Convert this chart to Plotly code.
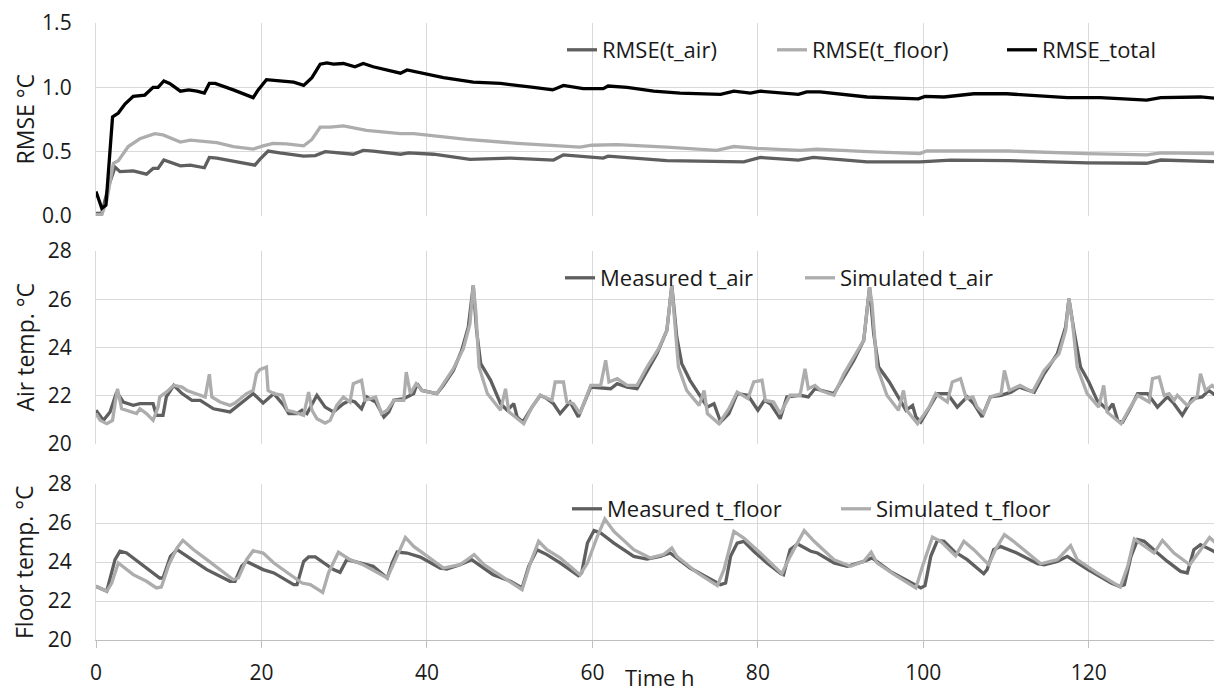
import plotly.graph_objects as go

# ---------------- data ----------------
# Panel 1: RMSE (°C)
t_rmse_air = [0, 0.7, 1.5, 2.3, 2.9, 4.5, 6.1, 6.9, 7.5, 8.2, 10.2, 11.4, 13.1, 13.7, 14.6, 16.6, 19.2, 19.8,
              20.8, 22.2, 23.5, 25.1, 26.5, 27.7, 28.7, 31.1, 32.3, 33.5, 36.8, 37.8, 40.8, 45.2, 50.1, 55.3,
              56.5, 60.1, 61.3, 61.9, 69.0, 78.3, 80.3, 84.9, 86.7, 93.2, 99.6, 103.3, 110.3, 119.8, 127.0,
              128.7, 136.1]
rmse_air = [0.02, 0.02, 0.23, 0.38, 0.345, 0.35, 0.325, 0.37, 0.37, 0.435, 0.39, 0.395, 0.375, 0.455, 0.45,
            0.425, 0.395, 0.44, 0.505, 0.49, 0.48, 0.465, 0.47, 0.50, 0.495, 0.48, 0.51, 0.505, 0.48, 0.49,
            0.48, 0.44, 0.45, 0.435, 0.475, 0.455, 0.45, 0.465, 0.43, 0.42, 0.455, 0.435, 0.455, 0.42, 0.42,
            0.435, 0.43, 0.413, 0.41, 0.435, 0.42]

t_rmse_floor = [0, 0.7, 1.3, 2.1, 2.7, 3.9, 5.3, 7.1, 8.1, 10.2, 11.4, 13.6, 14.6, 16.6, 19.0, 20.2, 21.4,
                23.0, 25.1, 26.1, 27.1, 28.3, 29.9, 32.7, 36.8, 38.4, 40.0, 44.8, 50.9, 55.3, 58.5, 59.9,
                63.0, 69.0, 75.0, 77.1, 79.9, 85.1, 87.1, 93.2, 99.6, 100.4, 107.3, 110.3, 119.8, 127.0,
                128.7, 136.1]
rmse_floor = [0.01, 0.01, 0.12, 0.41, 0.43, 0.54, 0.60, 0.64, 0.63, 0.575, 0.59, 0.575, 0.57, 0.54, 0.52,
              0.545, 0.565, 0.56, 0.545, 0.595, 0.69, 0.69, 0.70, 0.665, 0.64, 0.64, 0.63, 0.595, 0.565,
              0.545, 0.535, 0.55, 0.555, 0.535, 0.51, 0.54, 0.525, 0.51, 0.52, 0.50, 0.485, 0.505, 0.505,
              0.505, 0.485, 0.475, 0.49, 0.485]

t_rmse_total = [0, 0.7, 1.2, 2.0, 2.7, 3.5, 4.5, 5.9, 6.9, 7.5, 8.2, 8.9, 10.2, 11.2, 12.2, 13.1, 13.7, 14.4,
                16.6, 19.0, 19.6, 20.6, 22.2, 23.9, 25.1, 26.1, 27.1, 27.9, 28.7, 29.9, 31.3, 32.3, 33.5,
                36.8, 37.6, 39.6, 42.0, 45.6, 48.9, 52.9, 55.2, 56.5, 58.9, 61.3, 61.9, 64.2, 67.4, 70.6,
                75.5, 77.1, 79.1, 80.3, 81.9, 84.9, 85.9, 87.5, 93.2, 99.4, 100.2, 102.5, 106.1, 110.1,
                117.4, 121.4, 127.0, 128.7, 133.5, 136.1]
rmse_total = [0.19, 0.06, 0.085, 0.77, 0.80, 0.87, 0.93, 0.94, 1.0, 1.0, 1.05, 1.03, 0.97, 0.98, 0.97, 0.955,
              1.03, 1.03, 0.98, 0.92, 0.98, 1.06, 1.05, 1.04, 1.015, 1.075, 1.18, 1.19, 1.18, 1.185, 1.16,
              1.185, 1.16, 1.11, 1.135, 1.11, 1.075, 1.04, 1.03, 1.0, 0.98, 1.015, 0.99, 0.99, 1.01, 1.0,
              0.97, 0.955, 0.945, 0.97, 0.955, 0.97, 0.96, 0.945, 0.965, 0.965, 0.925, 0.91, 0.93, 0.925,
              0.95, 0.95, 0.92, 0.92, 0.9, 0.92, 0.925, 0.91]

# Panel 2: air temperature (°C)
t_air_meas = [0, 0.9, 1.7, 2.5, 3.3, 4.5, 5.3, 6.9, 7.3, 8.1, 8.5, 9.4, 10.4, 11.6, 12.6, 14.2, 16.2, 17.4,
              19.0, 20.2, 21.5, 22.7, 23.3, 24.3, 24.9, 25.5, 26.7, 27.7, 28.7, 29.9, 30.7, 31.3, 32.1, 32.7,
              33.8, 34.8, 35.4, 36.0, 37.2, 38.4, 38.8, 39.4, 41.2, 42.0, 43.2, 44.2, 45.0, 45.6, 46.0, 46.5,
              47.7, 48.9, 49.7, 50.5, 50.9, 51.6, 52.7, 53.7, 54.5, 55.3, 56.1, 57.3, 58.3, 59.8, 61.0, 62.2,
              63.0, 64.2, 65.4, 66.6, 67.8, 69.0, 69.6, 70.2, 70.8, 71.8, 73.1, 73.9, 74.7, 75.5, 76.5, 77.5,
              78.8, 80.0, 80.8, 81.5, 82.7, 83.5, 85.1, 86.1, 86.9, 87.6, 89.2, 90.4, 91.6, 92.8, 93.5, 94.0,
              94.6, 95.9, 96.9, 97.9, 98.7, 99.1, 99.7, 100.7, 101.7, 102.9, 104.1, 105.3, 106.1, 107.1,
              108.1, 109.4, 110.6, 111.6, 113.4, 114.6, 116.2, 117.2, 117.6, 118.2, 119.0, 120.0, 121.0,
              122.3, 122.9, 123.5, 124.1, 125.1, 125.9, 127.1, 128.3, 129.5, 130.3, 131.3, 132.5, 133.7,
              134.5, 135.3, 136.2]
air_meas = [21.4, 20.98, 21.33, 22.15, 21.74, 21.6, 21.67, 21.67, 21.19, 21.19, 21.95, 22.43, 22.09, 21.81,
            21.81, 21.46, 21.33, 21.67, 22.09, 21.70, 22.09, 21.6, 21.26, 21.26, 21.4, 21.26, 22.02, 21.53,
            21.33, 21.67, 21.81, 21.74, 21.46, 21.95, 21.74, 21.12, 21.33, 21.81, 21.88, 22.09, 22.5, 22.22,
            22.09, 22.43, 23.05, 23.88, 24.85, 26.57, 24.71, 23.33, 22.64, 21.67, 21.4, 21.67, 21.12, 20.91,
            21.53, 22.02, 21.88, 21.67, 21.26, 21.74, 21.12, 22.36, 22.33, 22.29, 22.5, 22.36, 22.29, 23.05,
            23.74, 24.71, 26.57, 24.43, 23.33, 22.64, 21.95, 21.53, 21.67, 20.91, 21.26, 22.09, 22.02, 21.4,
            21.81, 21.67, 21.05, 21.95, 22.02, 21.95, 22.29, 22.22, 22.09, 22.78, 23.47, 24.3, 26.5, 24.57,
            23.19, 22.57, 21.95, 21.4, 21.6, 21.12, 20.91, 21.53, 22.09, 22.09, 21.53, 21.95, 21.67, 21.12,
            21.95, 22.02, 22.15, 22.36, 22.15, 22.91, 23.74, 24.85, 26.02, 24.71, 23.19, 22.57, 21.81, 21.4,
            21.67, 20.98, 20.91, 21.53, 22.09, 22.09, 21.53, 21.95, 21.67, 21.19, 21.88, 21.95, 22.22, 22.02,
            21.95]

t_air_sim = [0, 0.5, 1.3, 2.0, 2.3, 2.6, 3.1, 4.9, 5.3, 6.1, 6.9, 7.5, 7.7, 8.5, 9.4, 10.4, 11.0, 12.6, 13.2,
             13.7, 14.0, 15.0, 16.2, 16.8, 18.2, 19.0, 19.4, 19.8, 20.6, 20.8, 21.5, 22.5, 23.1, 23.9, 25.1,
             25.7, 26.1, 26.7, 27.7, 28.3, 29.1, 29.9, 30.7, 31.1, 32.1, 32.5, 33.8, 34.5, 35.2, 36.0, 37.2,
             37.5, 38.0, 38.7, 39.4, 41.2, 43.2, 44.4, 45.2, 45.6, 45.9, 46.3, 47.3, 48.9, 49.5, 49.9, 50.7,
             51.7, 52.7, 53.7, 55.1, 55.5, 56.5, 56.9, 57.7, 58.5, 59.8, 61.0, 61.6, 62.0, 63.0, 64.2, 65.4,
             66.6, 68.0, 69.0, 69.6, 70.0, 70.4, 71.4, 72.9, 73.5, 73.9, 75.3, 76.5, 77.5, 78.8, 79.5, 80.5,
             80.9, 81.9, 82.7, 83.9, 85.1, 85.7, 86.1, 86.9, 87.6, 89.2, 90.4, 91.6, 92.8, 93.5, 93.8, 94.4,
             95.6, 97.0, 97.6, 98.0, 99.3, 100.7, 101.5, 102.9, 103.5, 104.5, 105.2, 106.0, 106.5, 107.3,
             108.1, 109.4, 109.8, 110.4, 111.7, 113.2, 114.6, 116.4, 117.2, 117.6, 118.0, 118.6, 119.8,
             121.2, 121.8, 122.2, 123.9, 124.9, 125.9, 127.3, 127.7, 128.5, 129.1, 129.7, 130.3, 130.7,
             131.9, 133.1, 133.5, 134.1, 134.9, 136.2]
air_sim = [21.26, 20.98, 20.84, 20.98, 21.67, 22.29, 21.46, 21.26, 21.46, 21.26, 20.98, 21.53, 21.95, 22.15,
           22.43, 22.36, 22.22, 22.02, 21.95, 22.89, 21.95, 21.74, 21.6, 21.70, 22.09, 22.22, 22.91, 23.08,
           23.19, 22.22, 22.09, 22.02, 21.4, 21.33, 21.19, 22.15, 21.4, 21.05, 20.87, 20.98, 21.6, 21.95,
           21.74, 22.5, 22.64, 21.81, 21.95, 21.26, 21.4, 21.81, 21.81, 22.98, 22.09, 22.5, 22.22, 22.09,
           23.12, 23.95, 24.99, 26.57, 25.54, 23.19, 22.09, 21.4, 22.29, 21.33, 21.12, 20.84, 21.53, 22.02,
           21.81, 22.57, 22.57, 21.74, 21.67, 21.26, 22.43, 22.43, 23.47, 22.57, 22.71, 22.43, 22.43, 23.19,
           23.95, 24.71, 26.57, 24.99, 23.19, 22.22, 21.6, 22.22, 21.26, 20.84, 21.46, 22.15, 21.88, 22.57,
           22.64, 21.81, 21.74, 21.26, 22.02, 22.02, 23.12, 22.29, 22.43, 22.22, 22.02, 22.91, 23.6, 24.3,
           26.5, 25.81, 23.19, 22.02, 21.4, 22.22, 21.4, 20.84, 21.53, 22.09, 21.74, 22.57, 22.71, 21.88,
           21.95, 21.53, 21.26, 21.95, 22.09, 23.05, 22.22, 22.43, 22.15, 23.05, 23.74, 24.71, 26.02, 25.12,
           23.19, 22.09, 21.53, 22.43, 21.33, 20.84, 21.46, 22.02, 21.74, 22.71, 22.78, 22.02, 22.09, 21.81,
           22.02, 21.6, 21.95, 22.91, 22.22, 22.43, 22.09]

# Panel 3: floor temperature (°C)
t_floor_meas = [0, 1.3, 2.3, 2.9, 3.7, 7.7, 8.1, 9.0, 9.8, 11.0, 13.4, 16.2, 16.8, 17.6, 18.2, 20.2, 21.5,
                23.9, 24.3, 25.1, 25.7, 26.5, 28.7, 29.5, 30.3, 31.9, 33.5, 35.2, 35.8, 36.4, 37.6, 39.2,
                41.6, 42.4, 44.0, 45.4, 48.0, 50.1, 51.5, 52.3, 53.3, 54.5, 56.1, 58.3, 58.7, 59.4, 60.2,
                61.0, 62.6, 65.0, 66.6, 68.2, 69.4, 71.8, 74.7, 75.5, 76.1, 76.7, 77.5, 78.3, 79.5, 81.1,
                82.8, 83.1, 83.9, 84.8, 86.4, 87.2, 89.2, 90.8, 92.8, 93.8, 96.0, 98.5, 99.7, 100.2, 100.9,
                101.7, 102.5, 103.7, 105.3, 107.3, 107.7, 108.5, 109.3, 111.3, 113.8, 114.6, 116.2, 117.4,
                119.9, 122.7, 123.7, 124.3, 125.1, 125.9, 126.7, 128.3, 129.5, 131.1, 131.9, 132.7, 133.5,
                135.1, 136.2]
floor_meas = [22.75, 22.5, 24.12, 24.55, 24.46, 23.18, 23.18, 24.29, 24.63, 24.29, 23.61, 23.01, 23.01, 23.78,
              24.03, 23.61, 23.44, 22.84, 22.84, 24.03, 24.26, 24.26, 23.61, 23.47, 24.12, 23.95, 23.78, 23.18,
              23.95, 24.51, 24.46, 24.25, 23.69, 23.64, 23.86, 24.12, 23.35, 23.01, 22.67, 23.78, 24.63, 24.38,
              23.95, 23.3, 23.44, 24.97, 25.61, 25.49, 24.97, 24.29, 24.15, 24.29, 24.46, 23.69, 23.01, 22.84,
              22.92, 24.29, 24.97, 25.06, 24.55, 23.95, 23.4, 23.35, 24.63, 24.92, 24.55, 24.46, 23.95, 23.78,
              24.03, 24.21, 23.52, 22.92, 22.67, 22.79, 24.29, 25.11, 25.06, 24.55, 24.12, 23.4, 23.61, 24.63,
              24.8, 24.46, 23.91, 23.86, 24.03, 24.29, 23.61, 22.92, 22.75, 22.84, 24.29, 25.15, 25.06, 24.46,
              24.03, 23.52, 23.44, 24.63, 24.89, 24.55, 24.26]

t_floor_sim = [0, 1.3, 1.9, 2.7, 4.5, 6.1, 7.3, 7.9, 8.8, 9.8, 10.5, 11.8, 13.4, 16.6, 17.2, 18.2, 19.0, 20.2,
               21.5, 23.5, 24.9, 25.9, 27.4, 28.1, 29.3, 30.7, 32.3, 35.2, 36.0, 37.4, 38.4, 42.0, 44.0, 45.7,
               46.9, 49.3, 51.5, 52.5, 53.5, 54.5, 56.1, 58.5, 59.4, 60.6, 61.5, 62.6, 65.0, 67.0, 68.6, 69.6,
               70.2, 72.7, 75.1, 75.9, 77.1, 78.3, 80.3, 82.9, 83.9, 85.6, 86.8, 89.2, 91.2, 92.8, 93.7, 94.4,
               96.5, 99.1, 99.9, 101.1, 102.1, 103.9, 104.9, 106.1, 107.9, 108.7, 109.8, 110.9, 114.2, 116.2,
               117.8, 118.6, 121.0, 123.8, 124.7, 125.5, 126.7, 127.9, 128.9, 130.3, 132.2, 133.2, 134.6,
               136.2]
floor_sim = [22.75, 22.5, 22.92, 23.95, 23.35, 23.01, 22.67, 22.72, 23.86, 24.72, 25.11, 24.63, 24.12, 23.09,
             23.18, 24.12, 24.58, 24.46, 23.95, 23.35, 22.92, 22.84, 22.44, 23.44, 24.5, 24.12, 23.86, 23.18,
             23.95, 25.26, 24.8, 23.69, 23.86, 24.38, 23.86, 23.18, 22.58, 23.95, 25.06, 24.63, 24.21, 23.35,
             23.95, 25.32, 26.2, 25.57, 24.63, 24.21, 24.38, 24.72, 24.29, 23.44, 22.79, 23.61, 25.57, 25.23,
             24.46, 23.4, 24.29, 25.61, 25.06, 24.12, 23.78, 24.03, 24.5, 23.95, 23.35, 22.67, 23.78, 25.28,
             25.06, 24.32, 25.06, 24.63, 23.86, 24.63, 25.4, 25.06, 23.91, 24.12, 24.84, 24.12, 23.44, 22.72,
             23.78, 25.18, 24.8, 24.46, 25.11, 24.46, 23.86, 24.46, 25.26, 24.63]

x_ticks = [0, 20, 40, 60, 80, 100, 120]
rmse_ticks = [0.0, 0.5, 1.0, 1.5]
temp_ticks = [20, 22, 24, 26, 28]

# ---------------- styling ----------------
DARK = "#5f5f5f"
LIGHT = "#adadad"
BLACK = "#000000"
GRID = "#d9d9d9"
FONT = "Open Sans"
TXT = "#1a1a1a"
LW = 3.3

OFF = 8                      # page body margin of the html page
W, H = 1222 - OFF, 691 - OFF
ML, MR, MT, MB = 96 - OFF, 0, 23 - OFF, 51
PW = W - ML - MR
PH = H - MT - MB


def py_to_paper(py):          # page pixel row -> paper fraction
    return (H - MB - (py - OFF)) / PH


def px_to_paper(px):          # page pixel column -> paper fraction
    return (px - OFF - ML) / PW


fig = go.Figure()

series = [
    (t_rmse_air, rmse_air, "RMSE(t_air)", DARK, "x", "y", "legend"),
    (t_rmse_floor, rmse_floor, "RMSE(t_floor)", LIGHT, "x", "y", "legend2"),
    (t_rmse_total, rmse_total, "RMSE_total", BLACK, "x", "y", "legend3"),
    (t_air_meas, air_meas, "Measured t_air", DARK, "x2", "y2", "legend4"),
    (t_air_sim, air_sim, "Simulated t_air", LIGHT, "x2", "y2", "legend5"),
    (t_floor_meas, floor_meas, "Measured t_floor", DARK, "x3", "y3", "legend6"),
    (t_floor_sim, floor_sim, "Simulated t_floor", LIGHT, "x3", "y3", "legend7"),
]
for tx, vy, name, col, xa, ya, lg in series:
    fig.add_trace(go.Scatter(x=tx, y=vy, name=name, mode="lines",
                             line=dict(color=col, width=LW),
                             xaxis=xa, yaxis=ya, legend=lg))

# legend positions: (text start px, centre y px) in page pixels
leg_pos = {
    "legend": (604, 50), "legend2": (814, 50), "legend3": (1044, 50),
    "legend4": (602, 278), "legend5": (842, 278),
    "legend6": (609, 509), "legend7": (878, 509),
}
legends = {}
for k, (tx, ty) in leg_pos.items():
    legends[k] = dict(x=px_to_paper(tx - 42), y=py_to_paper(ty), xanchor="left", yanchor="middle",
                      orientation="h", bgcolor="rgba(0,0,0,0)", borderwidth=0,
                      font=dict(family=FONT, size=22, color=TXT), itemclick=False)

# panel domains (page pixel rows)
d1 = [py_to_paper(216), py_to_paper(23)]
d2 = [py_to_paper(444), py_to_paper(251)]
d3 = [py_to_paper(640), py_to_paper(484)]

xcommon = dict(range=[0, 136.1], tickvals=x_ticks, showgrid=True, gridcolor=GRID, gridwidth=1.3,
               zeroline=False, fixedrange=True)
ycommon = dict(showgrid=True, gridcolor=GRID, gridwidth=1.3, zeroline=False, showline=True,
               linecolor=GRID, linewidth=1.3, ticks="", ticklabelstandoff=19,
               tickfont=dict(family=FONT, size=21, color=TXT))

fig.update_layout(
    width=W, height=H,
    margin=dict(l=ML, r=MR, t=MT, b=MB, autoexpand=False),
    paper_bgcolor="white", plot_bgcolor="white",
    font=dict(family=FONT, color=TXT),
    showlegend=True,
    xaxis=dict(**xcommon, anchor="y", showticklabels=False),
    xaxis2=dict(**xcommon, anchor="y2", showticklabels=False),
    xaxis3=dict(**xcommon, anchor="y3", showticklabels=True, showline=True, linecolor="#bfbfbf",
                linewidth=1.3, ticks="outside", ticklen=7, tickcolor="#bfbfbf", tickwidth=1.3,
                ticklabelstandoff=7, tickfont=dict(family=FONT, size=21, color=TXT)),
    yaxis=dict(**ycommon, domain=d1, anchor="x", range=[0, 1.5], tickvals=rmse_ticks, tickformat=".1f"),
    yaxis2=dict(**ycommon, domain=d2, anchor="x2", range=[20, 28], tickvals=temp_ticks),
    yaxis3=dict(**ycommon, domain=d3, anchor="x3", range=[20, 28], tickvals=temp_ticks),
    **legends,
)

# axis titles
titles = [("RMSE °C", 119.5), ("Air temp. °C", 347.5), ("Floor temp. °C", 562)]
for txt, cy in titles:
    fig.add_annotation(text=txt, xref="paper", yref="paper", x=px_to_paper(24), y=py_to_paper(cy),
                       xanchor="center", yanchor="middle", textangle=-90, showarrow=False,
                       font=dict(family=FONT, size=23, color=TXT))
fig.add_annotation(text="Time h", xref="paper", yref="paper", x=px_to_paper(660), y=py_to_paper(677),
                   xanchor="center", yanchor="middle", showarrow=False,
                   font=dict(family=FONT, size=22, color=TXT))

fig.write_html("out.html")
